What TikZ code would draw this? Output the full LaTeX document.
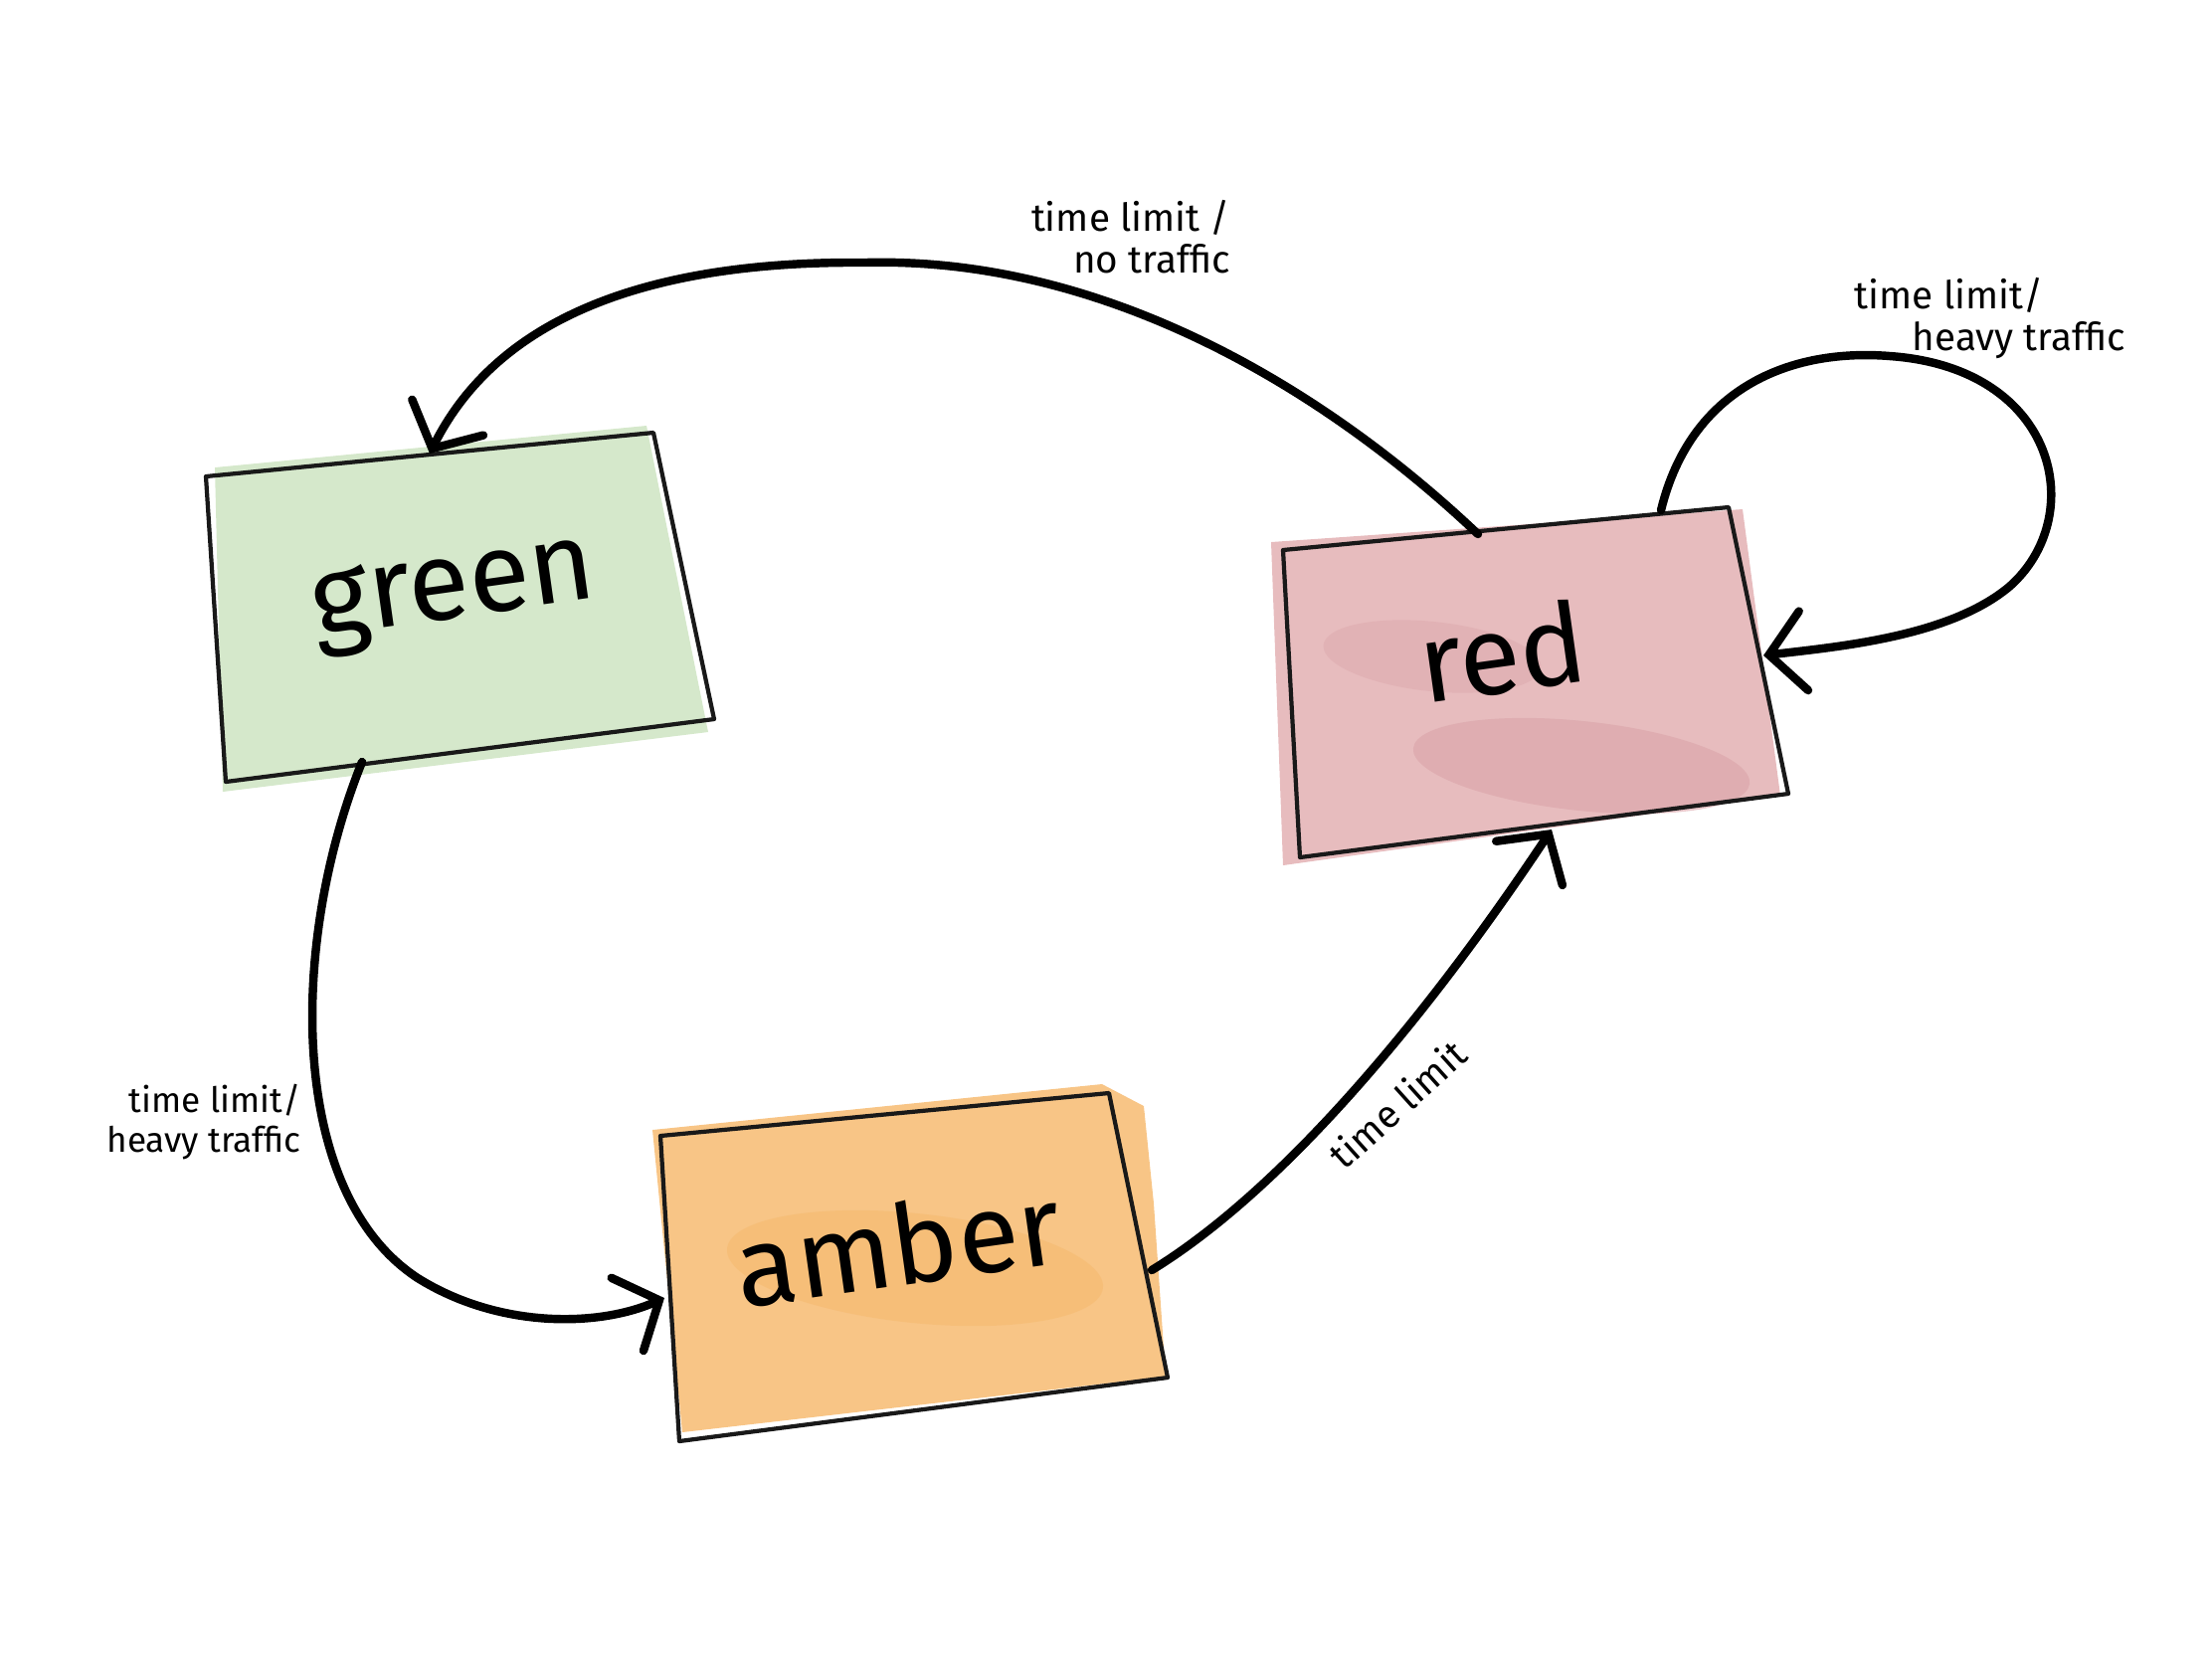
\documentclass[tikz,border=0pt]{standalone}
\usepackage{fontspec}
\setmainfont{Fira Sans}
\usetikzlibrary{arrows.meta}

\definecolor{greenwash}{RGB}{213,232,203}
\definecolor{redwash}{RGB}{231,188,190}
\definecolor{redpatch}{RGB}{218,164,169}
\definecolor{amberwash}{RGB}{248,197,134}
\definecolor{amberpatch}{RGB}{246,186,112}

\tikzset{
  state/.style={draw=black!90, line width=1.2pt, line join=round},
  trans/.style={line width=2.4pt, line cap=round,
    -{Straight Barb[length=3.5mm,width=8mm,line cap=round]}},
  statename/.style={font=\fontsize{32}{32}\selectfont, rotate=8},
  translabel/.style={font=\fontsize{11}{12}\selectfont, align=right},
}

\begin{document}
\begin{tikzpicture}[x=0.01cm, y=-0.01cm] %pixel units
\useasboundingbox (0,0) rectangle (2224,1668);

% green state
\fill[greenwash] (216,470) -- (650,428) -- (712,736) -- (224,796) -- cycle;
\draw[state] (207,479) -- (657,435) -- (718,723) -- (227,786) -- cycle;
\node[statename] (green) at (457,600) {green};

% red state
\fill[redwash] (1278,545) -- (1752,512) -- (1790,800) -- (1290,870) -- cycle;
\fill[redpatch, opacity=0.6, rotate around={-6:(1590,770)}] (1590,770) ellipse (170 and 45);
\fill[redpatch, opacity=0.4, rotate around={-6:(1440,660)}] (1440,660) ellipse (110 and 35);
\draw[state] (1290,553) -- (1738,510) -- (1798,798) -- (1307,862) -- cycle;
\node[statename] (red) at (1510,655) {red};

% amber state
\fill[amberwash] (656,1136) -- (1108,1090) -- (1150,1112) -- (1160,1210) -- (1172,1384) -- (686,1440) -- cycle;
\fill[amberpatch, opacity=0.6, rotate around={-6:(920,1275)}] (920,1275) ellipse (190 and 55);
\draw[state] (664,1142) -- (1115,1099) -- (1174,1385) -- (683,1449) -- cycle;
\node[statename] (amber) at (903,1251) {amber};

% connector ends
\coordinate (red-top-a) at (1486,537);
\coordinate (red-top-b) at (1670,513);
\coordinate (red-right) at (1773,659);
\coordinate (red-bottom) at (1560,834);
\coordinate (green-top) at (432,456);
\coordinate (green-bottom) at (364,766);
\coordinate (amber-left) at (668,1305);
\coordinate (amber-right) at (1158,1277);

% transitions
\draw[trans] (red-top-a) .. controls (1320,380) and (1100,258) .. (870,264)
  .. controls (650,262) and (500,320) .. (green-top);
\draw[trans] (red-top-b) .. controls (1700,390) and (1800,350) .. (1900,358)
  .. controls (2070,370) and (2100,520) .. (2020,590)
  .. controls (1960,640) and (1850,650) .. (red-right);
\draw[trans] (green-bottom) .. controls (290,950) and (290,1200) .. (420,1285)
  .. controls (500,1335) and (600,1335) .. (amber-left);
\draw[trans] (amber-right) .. controls (1300,1190) and (1450,1000) .. (red-bottom);

% labels
\node[translabel] (lbl-top) at (1137,238) {time limit /\\no traffic};
\node[translabel, align=left] (lbl-loop) at (2001,320) {time limit/\\\hspace*{1.5em}heavy traffic};
\node[translabel, font=\fontsize{10}{11.5}\selectfont] (lbl-left) at (205,1128) {time limit/\\heavy traffic};
\node[translabel, rotate=42] (lbl-diag) at (1405,1110) {time limit};

\end{tikzpicture}
\end{document}
